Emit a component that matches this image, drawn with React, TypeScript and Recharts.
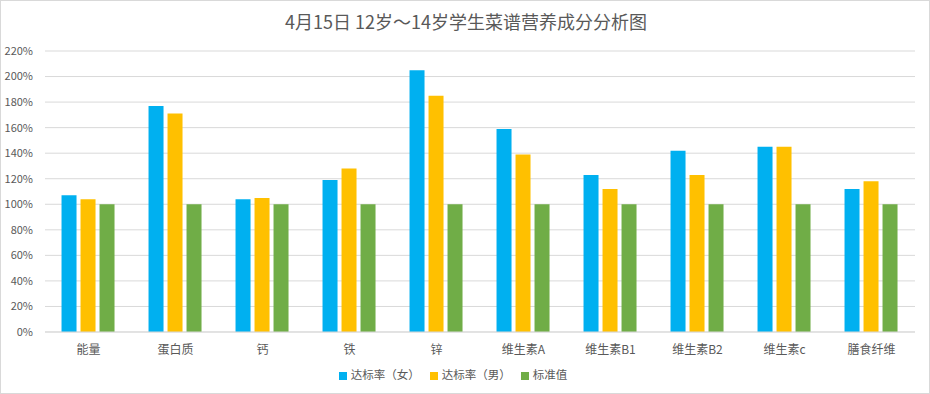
import React from 'react';
import { BarChart, Bar, XAxis, YAxis, CartesianGrid, Legend } from 'recharts';

const categories = ['能量', '蛋白质', '钙', '铁', '锌', '维生素A', '维生素B1', '维生素B2', '维生素c', '膳食纤维'];
const femaleRate = [107, 177, 104, 119, 205, 159, 123, 142, 145, 112];
const maleRate = [104, 171, 105, 128, 185, 139, 112, 123, 145, 118];
const standard = [100, 100, 100, 100, 100, 100, 100, 100, 100, 100];
const yTicks = [0, 20, 40, 60, 80, 100, 120, 140, 160, 180, 200, 220];

const data = categories.map((name, i) => ({
  name,
  female: femaleRate[i],
  male: maleRate[i],
  standard: standard[i],
}));

const FONT = '"Microsoft YaHei", "Noto Sans CJK SC", sans-serif';
const TEXT = '#595959';

export default function App() {
  return (
    <div
      style={{
        position: 'absolute',
        left: 0,
        top: 0,
        width: 930,
        height: 394,
        boxSizing: 'border-box',
        border: '1px solid #d9d9d9',
        background: '#fff',
        fontFamily: FONT,
      }}
    >
      <div
        style={{
          position: 'absolute',
          top: 7,
          left: 0,
          width: 930,
          textAlign: 'center',
          fontSize: 18,
          color: TEXT,
        }}
      >
        4月15日 12岁～14岁学生菜谱营养成分分析图
      </div>
      <BarChart
        width={928}
        height={392}
        data={data}
        margin={{ top: 50, right: 14, left: 0, bottom: 15 }}
        barCategoryGap="19%"
        barGap={4}
        style={{ position: 'absolute', left: 0, top: 0 }}
      >
        <CartesianGrid vertical={false} stroke="#d9d9d9" />
        <XAxis
          dataKey="name"
          height={30}
          axisLine={{ stroke: '#d9d9d9' }}
          tickLine={false}
          tick={{ fill: TEXT, fontSize: 12, fontFamily: FONT }}
          tickMargin={7}
        />
        <YAxis
          width={44}
          domain={[0, 220]}
          ticks={yTicks}
          interval={0}
          tickFormatter={(v) => `${v}%`}
          axisLine={false}
          tickLine={false}
          tick={{ fill: TEXT, fontSize: 11, fontFamily: FONT }}
          tickMargin={6}
        />
        <Legend
          verticalAlign="bottom"
          align="center"
          iconType="square"
          iconSize={8}
          itemSorter="dataKey"
          wrapperStyle={{ bottom: 11, fontSize: 11.5, color: TEXT, fontFamily: FONT }}
          formatter={(value) => <span style={{ color: TEXT }}>{value}</span>}
        />
        <Bar dataKey="female" name="达标率（女）" fill="#00B0F0" isAnimationActive={false} />
        <Bar dataKey="male" name="达标率（男）" fill="#FFC000" isAnimationActive={false} />
        <Bar dataKey="standard" name="标准值" fill="#70AD47" isAnimationActive={false} />
      </BarChart>
    </div>
  );
}
